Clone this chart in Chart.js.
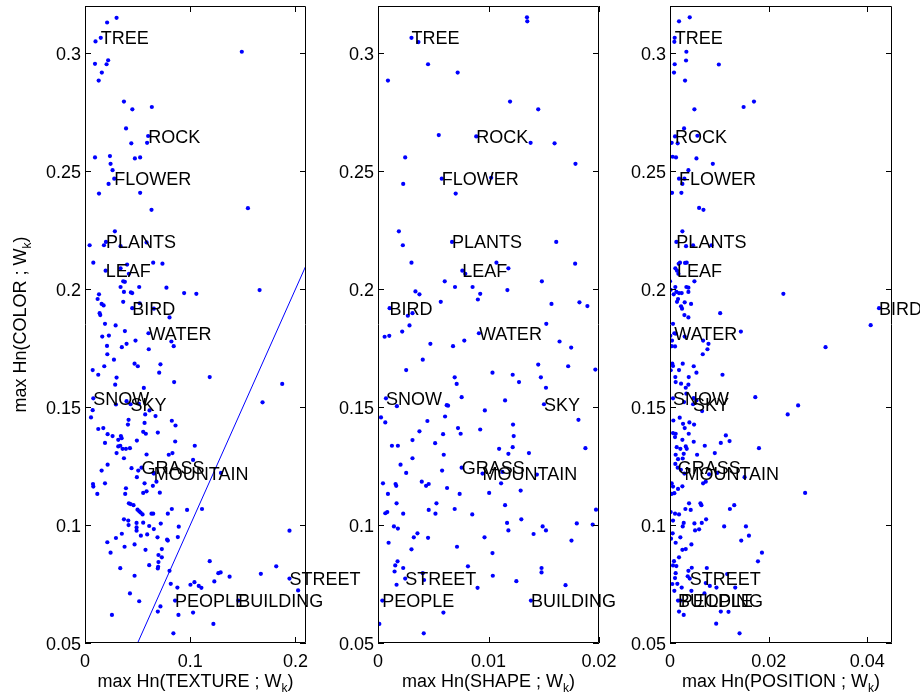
<!DOCTYPE html>
<html>
<head>
<meta charset="utf-8">
<script src="https://cdn.jsdelivr.net/npm/chart.js@4.4.1/dist/chart.umd.min.js"></script>
<style>
  html, body { margin: 0; padding: 0; background: #fff; }
  #wrap { position: relative; width: 920px; height: 693px; overflow: hidden; }
  #wrap canvas { position: absolute; left: 0; top: 0; }
</style>
</head>
<body>
<div id="wrap">
  <canvas id="cTexture" width="920" height="693"></canvas>
  <canvas id="cShape" width="920" height="693"></canvas>
  <canvas id="cPosition" width="920" height="693"></canvas>
</div>
<script>
// shared y axis (max Hn(COLOR ; Wk))
const yTicks = [0.05, 0.1, 0.15, 0.2, 0.25, 0.3];
const yMin = 0.05, yMax = 0.32;

// labelled words, y is the same in every panel
const words = ['TREE', 'ROCK', 'FLOWER', 'PLANTS', 'LEAF', 'BIRD', 'WATER', 'SNOW', 'SKY', 'GRASS', 'MOUNTAIN', 'STREET', 'PEOPLE', 'BUILDING'];
const wordY = [0.3065, 0.2647, 0.2468, 0.22, 0.2078, 0.1919, 0.1813, 0.1537, 0.1512, 0.1243, 0.1218, 0.0773, 0.068, 0.068];

// panel 1: texture
const textureTicks = [0, 0.1, 0.2];
const textureMax = 0.21;
const textureWordX = [0.015, 0.060, 0.0278, 0.0199, 0.0196, 0.0449, 0.0603, 0.0079, 0.0433, 0.0537, 0.0654, 0.1943, 0.0856, 0.1457];
const textureLine = [[0.05, 0.05], [0.21, 0.21]];
const texturePoints = [
  [0.030,0.315],[0.021,0.313],[0.015,0.3065],[0.010,0.305],[0.0095,0.2955],[0.022,0.297],[0.0205,0.2953],[0.016,0.2918],[0.013,0.2884],[0.149,0.3006],
  [0.037,0.2795],[0.045,0.2762],[0.0635,0.2772],[0.039,0.2681],[0.060,0.2649],[0.059,0.262],[0.044,0.2618],[0.0095,0.2558],[0.0237,0.2564],[0.0243,0.2531],
  [0.0262,0.2504],[0.0474,0.2554],[0.0524,0.2558],[0.0278,0.2468],[0.0224,0.2446],[0.0133,0.2405],[0.0524,0.2408],[0.0632,0.2336],[0.1548,0.2343],[0.0284,0.2245],
  [0.0199,0.22],[0.018,0.2186],[0.0044,0.2186],[0.0338,0.2182],[0.0585,0.2198],[0.0079,0.2112],[0.0196,0.2078],[0.0338,0.2088],[0.040,0.2104],[0.0648,0.2112],
  [0.0736,0.2108],[0.0417,0.2065],[0.0338,0.2009],[0.0363,0.2033],[0.0379,0.2031],[0.0515,0.2009],[0.0774,0.2006],[0.1659,0.1996],[0.037,0.1988],[0.0436,0.1986],
  [0.0449,0.1983],[0.0942,0.1983],[0.1058,0.198],[0.0133,0.1978],[0.012,0.1958],[0.0158,0.1937],[0.0177,0.1931],[0.0363,0.1946],[0.0449,0.1919],[0.052,0.194],
  [0.0654,0.1917],[0.0139,0.1898],[0.0145,0.189],[0.0803,0.188],[0.019,0.1853],[0.0291,0.1846],[0.0379,0.1822],[0.0603,0.1813],[0.0164,0.1799],[0.0227,0.1803],
  [0.0209,0.1759],[0.035,0.1754],[0.0395,0.1768],[0.048,0.1782],[0.0821,0.1778],[0.0843,0.1758],[0.0606,0.1745],
  [0.0212,0.1724],[0.0275,0.1701],[0.0183,0.1673],[0.0073,0.1657],[0.0471,0.1684],[0.0502,0.1673],[0.0717,0.1681],[0.0705,0.1646],[0.0126,0.1637],[0.030,0.1625],
  [0.1185,0.1627],[0.0847,0.1606],[0.0287,0.1595],[0.0559,0.1581],[0.1874,0.1598],[0.0079,0.1537],[0.0294,0.1511],[0.0395,0.1525],[0.0433,0.1512],[0.0512,0.1514],
  [0.1687,0.152],[0.0073,0.1487],[0.0613,0.1486],[0.0057,0.1456],[0.0572,0.1469],[0.067,0.1462],[0.0414,0.1446],[0.0825,0.1442],[0.0566,0.1433],[0.0408,0.1426],
  [0.086,0.1422],[0.0126,0.1407],[0.0174,0.1411],[0.0553,0.1395],[0.0578,0.1387],[0.0692,0.1392],[0.0493,0.1358],[0.0316,0.1361],[0.0215,0.1385],[0.0262,0.1377],
  [0.019,0.1348],[0.0341,0.1377],[0.0348,0.1368],[0.0857,0.1354],[0.1043,0.1336],[0.0316,0.1333],[0.0335,0.1336],[0.0357,0.1323],[0.0389,0.1323],[0.0427,0.1326],
  [0.030,0.1305],[0.0585,0.1299],[0.0831,0.1305],[0.0796,0.1298],[0.037,0.1283],[0.1027,0.1276],[0.0215,0.1256],[0.0158,0.1231],[0.0442,0.1241],[0.0506,0.1231],
  [0.0537,0.1243],[0.0651,0.1221],[0.0654,0.1218],[0.1292,0.1221],[0.0493,0.1203],[0.0566,0.1177],[0.0679,0.1184],[0.0076,0.1174],[0.0079,0.1163],[0.019,0.1177],
  [0.0389,0.1156],[0.0645,0.1166],[0.0585,0.1143],[0.0711,0.1137],[0.0117,0.1132],[0.0382,0.1132],[0.0553,0.1136],[0.0417,0.1092],[0.0433,0.1089],[0.0461,0.1084],
  [0.0499,0.1065],[0.0515,0.1058],[0.0528,0.1053],[0.0547,0.1045],[0.0632,0.1048],[0.0648,0.1048],[0.0787,0.1048],[0.0825,0.1068],[0.097,0.1064],[0.1112,0.1068],
  [0.037,0.1024],[0.0411,0.1019],[0.049,0.1009],[0.0414,0.100],[0.0553,0.101],[0.072,0.1006],[0.049,0.099],[0.061,0.0996],[0.0654,0.0983],[0.049,0.0976],
  [0.035,0.0963],[0.0531,0.0955],[0.0591,0.096],[0.0689,0.0948],[0.078,0.0938],[0.0891,0.0993],[0.0882,0.0949],[0.1943,0.0976],[0.0294,0.0945],[0.0212,0.0927],
  [0.0787,0.0934],[0.0471,0.0918],[0.0376,0.0908],[0.0575,0.0895],[0.073,0.0898],[0.0243,0.0883],[0.0698,0.0873],[0.073,0.0863],[0.1185,0.0847],[0.061,0.083],
  [0.0698,0.0843],[0.0695,0.0823],[0.0692,0.0816],[0.0335,0.0817],[0.0803,0.0806],[0.1267,0.0796],[0.1289,0.0799],[0.1374,0.0781],[0.1671,0.0793],[0.1817,0.0825],
  [0.1229,0.0761],[0.1943,0.0773],[0.0471,0.0785],[0.104,0.0758],[0.1002,0.0747],[0.1081,0.0742],[0.1106,0.0734],[0.0815,0.0751],[0.0878,0.0735],[0.2025,0.0723],
  [0.0427,0.071],[0.0515,0.0677],[0.0856,0.068],[0.1457,0.068],[0.0717,0.0655],[0.0692,0.0633],[0.0888,0.0619],[0.1027,0.0629],[0.0256,0.0619],[0.122,0.0581],
  [0.084,0.0541]
];

// panel 2: shape
const shapeTicks = [0, 0.01, 0.02];
const shapeMax = 0.02;
const shapeWordX = [0.00303, 0.00889, 0.00577, 0.0067, 0.00763, 0.00105, 0.00913, 0.00072, 0.01502, 0.00757, 0.00946, 0.00246, 0.00039, 0.01384];
const shapePoints = [
  [0.01348,0.3152],[0.01351,0.3135],[0.00303,0.3065],[0.00366,0.3047],[0.00453,0.2953],[0.00721,0.2918],[0.0009,0.2884],[0.01195,0.2795],[0.0145,0.2762],[0.0055,0.2653],
  [0.00889,0.2647],[0.01381,0.262],[0.01598,0.2618],[0.00246,0.2558],[0.01787,0.2531],[0.00577,0.2468],[0.01024,0.2472],[0.00228,0.2446],[0.00703,0.2405],[0.00189,0.2245],
  [0.0067,0.22],[0.01613,0.22],[0.00225,0.2186],[0.00303,0.2112],[0.01784,0.2108],[0.01072,0.2112],[0.0118,0.2088],[0.00763,0.2078],[0.0079,0.2065],[0.00604,0.2033],
  [0.01483,0.2033],[0.00697,0.2009],[0.00856,0.2009],[0.01171,0.1996],[0.00339,0.199],[0.00375,0.1978],[0.00925,0.198],[0.00904,0.1956],[0.00568,0.1946],[0.0157,0.1937],
  [0.01823,0.1944],[0.01895,0.1928],[0.00105,0.1919],[0.00312,0.1898],[0.0027,0.1887],[0.00285,0.1846],[0.00219,0.182],[0.01523,0.1853],[0.00913,0.1813],[0.0006,0.1798],
  [0.00102,0.1802],[0.00474,0.1768],[0.00679,0.1758],[0.00781,0.1782],[0.01643,0.1778],[0.01748,0.1752],
  [0.00405,0.1701],[0.00255,0.1657],[0.0145,0.168],[0.01721,0.1673],[0.01967,0.1659],[0.01036,0.1646],[0.00694,0.1626],[0.01219,0.1637],[0.01474,0.1626],[0.00712,0.1598],
  [0.01276,0.1606],[0.0152,0.1582],[0.00757,0.1542],[0.0115,0.1528],[0.00072,0.1537],[0.00171,0.1504],[0.00622,0.1508],[0.00634,0.1506],[0.01502,0.1512],[0.00967,0.1486],
  [0.00027,0.1456],[0.00066,0.1435],[0.00447,0.1441],[0.00607,0.146],[0.01814,0.1446],[0.01222,0.1426],[0.00375,0.1397],[0.00724,0.1411],[0.00748,0.1387],[0.00925,0.1405],
  [0.00589,0.1385],[0.01228,0.1377],[0.00312,0.136],[0.00517,0.1347],[0.00126,0.1336],[0.0018,0.1336],[0.01219,0.133],[0.01096,0.1323],[0.0118,0.1302],[0.01366,0.1305],
  [0.01877,0.1326],[0.00595,0.1298],[0.00312,0.1283],[0.00204,0.1256],[0.00757,0.1243],[0.0058,0.1231],[0.00255,0.1221],[0.00946,0.1218],[0.01438,0.1214],[0.01126,0.1225],
  [0.00045,0.1177],[0.00159,0.1174],[0.00165,0.1166],[0.00396,0.1184],[0.00459,0.1174],[0.00435,0.1166],[0.01114,0.1177],[0.00625,0.1157],[0.01291,0.1146],[0.0009,0.1132],
  [0.00739,0.1132],[0.01006,0.1136],[0.00168,0.1092],[0.00529,0.1092],[0.0115,0.1084],[0.00694,0.1068],[0.00459,0.1064],[0.00084,0.1055],[0.00066,0.105],[0.00228,0.1048],
  [0.0052,0.1048],[0.00853,0.1045],[0.01973,0.1065],[0.01297,0.1024],[0.01168,0.1009],[0.01799,0.1007],[0.01943,0.1002],[0.0149,0.0994],[0.00144,0.0994],[0.0018,0.0985],
  [0.0118,0.0977],[0.0152,0.0977],[0.00357,0.0965],[0.01408,0.0962],[0.00324,0.0948],[0.00453,0.0946],[0.00964,0.0948],[0.01751,0.0934],[0.00096,0.0925],[0.00715,0.0908],
  [0.00303,0.0897],[0.01036,0.0881],[0.00177,0.0846],[0.00156,0.0829],[0.0015,0.0803],[0.00228,0.0818],[0.00814,0.0825],[0.0148,0.0818],[0.0148,0.0799],[0.00405,0.0796],
  [0.01039,0.0785],[0.00246,0.0773],[0.00417,0.0767],[0.01252,0.0762],[0.00168,0.0747],[0.01697,0.0745],[0.00901,0.0734],[0.00039,0.068],[0.01384,0.068],[0.00592,0.0629],
  [0.00012,0.0581],[0.00414,0.0541]
];

// panel 3: position
const positionTicks = [0, 0.02, 0.04];
const positionMax = 0.045;
const positionWordX = [0.00095, 0.00102, 0.00183, 0.00129, 0.00142, 0.04237, 0.00088, 0.00061, 0.00468, 0.00156, 0.00292, 0.0040, 0.00217, 0.00163];
const positionPoints = [
  [0.004,0.3152],[0.00183,0.3135],[0.00095,0.3065],[0.00088,0.3048],[0.00332,0.3006],[0.00325,0.2969],[0.00095,0.2953],[0.0099,0.2952],[0.00081,0.2918],[0.00305,0.2884],
  [0.01702,0.2795],[0.01492,0.2772],[0.00495,0.2762],[0.00285,0.2681],[0.00102,0.2647],[0.00556,0.265],[0.00034,0.262],[0.00156,0.2618],[0.00054,0.2561],[0.00122,0.2558],
  [0.00536,0.2554],[0.00868,0.2531],[0.00373,0.2504],[0.00183,0.2468],[0.00292,0.2468],[0.00251,0.2446],[0.00041,0.2408],[0.00231,0.2408],[0.0059,0.2344],[0.00678,0.2336],
  [0.00251,0.2245],[0.00129,0.22],[0.00325,0.2182],[0.00468,0.2186],[0.00841,0.2186],[0.00176,0.2107],[0.00203,0.2112],[0.00305,0.2111],[0.00339,0.2112],[0.00108,0.2088],
  [0.00142,0.2078],[0.0017,0.2065],[0.0000,0.2033],[0.00495,0.2033],[0.00014,0.1997],[0.00108,0.2009],[0.00332,0.2009],[0.00373,0.2006],[0.02298,0.198],[0.00129,0.1988],
  [0.00183,0.1983],[0.00237,0.1983],[0.00075,0.1978],[0.00373,0.1988],[0.00163,0.1958],[0.00142,0.1946],[0.00298,0.1944],[0.00427,0.1937],[0.00224,0.1927],[0.00244,0.1917],
  [0.01017,0.1898],[0.00292,0.189],[0.00373,0.188],[0.04237,0.1919],[0.04068,0.1847],[0.00061,0.1853],[0.00088,0.1813],[0.00007,0.1802],[0.00115,0.1811],[0.00298,0.1799],
  [0.01437,0.182],[0.00671,0.1782],[0.0078,0.1768],[0.00041,0.1782],[0.00034,0.1758],[0.00102,0.1757],[0.03153,0.1754],[0.00759,0.1745],
  [0.00664,0.1724],[0.00047,0.1684],[0.00061,0.1674],[0.00258,0.1684],[0.00481,0.1673],[0.00183,0.1657],[0.00014,0.1656],[0.00536,0.1646],[0.01064,0.1637],[0.0038,0.1627],
  [0.00108,0.1627],[0.00115,0.1606],[0.00224,0.1599],[0.00373,0.1595],[0.00319,0.1582],[0.00332,0.1557],[0.00061,0.1537],[0.01729,0.1542],[0.00481,0.1538],[0.00536,0.1528],
  [0.02597,0.1507],[0.02386,0.1469],[0.00285,0.1521],[0.00468,0.1512],[0.00651,0.1483],[0.00068,0.1443],[0.00197,0.1455],[0.00264,0.1429],[0.00393,0.1435],[0.00488,0.1426],
  [0.00298,0.1411],[0.00061,0.139],[0.00115,0.1387],[0.0038,0.1387],[0.00102,0.1373],[0.00251,0.1361],[0.00481,0.1353],[0.0103,0.1348],[0.01207,0.1356],[0.01132,0.138],
  [0.00136,0.133],[0.0021,0.1323],[0.00319,0.1333],[0.00339,0.1323],[0.00705,0.1336],[0.01803,0.1326],[0.00115,0.1298],[0.00278,0.1302],[0.00549,0.1298],[0.00908,0.1305],
  [0.00163,0.1279],[0.00258,0.1282],[0.00108,0.1259],[0.00156,0.1243],[0.00292,0.1218],[0.0022,0.1234],[0.00793,0.1215],[0.00956,0.1221],[0.01512,0.1203],[0.00725,0.1184],
  [0.00671,0.1177],[0.00034,0.1177],[0.00061,0.1163],[0.00034,0.1132],[0.00088,0.1135],[0.00163,0.1153],[0.00251,0.1164],[0.02739,0.1136],[0.00386,0.1092],[0.00617,0.1092],
  [0.01302,0.1084],[0.00312,0.1068],[0.0042,0.1064],[0.00637,0.1084],[0.01214,0.1068],[0.00014,0.1055],[0.00102,0.1048],[0.00183,0.1045],[0.00061,0.1019],[0.00278,0.1009],
  [0.00495,0.1007],[0.00644,0.1009],[0.00732,0.1024],[0.01098,0.0994],[0.01539,0.0994],[0.016,0.0955],[0.01444,0.0934],[0.00258,0.0994],[0.00508,0.0977],[0.0059,0.0982],
  [0.00054,0.0965],[0.0002,0.0942],[0.0021,0.0948],[0.00115,0.0925],[0.00434,0.0918],[0.00251,0.0895],[0.00319,0.0898],[0.00183,0.0863],[0.01864,0.0883],[0.01783,0.0846],
  [0.00061,0.0829],[0.00129,0.0826],[0.00081,0.0847],[0.00441,0.0819],[0.00373,0.0806],[0.00746,0.0818],[0.00115,0.0796],[0.00359,0.0783],[0.0040,0.0773],[0.01159,0.0792],
  [0.00102,0.0775],[0.00047,0.075],[0.00237,0.0735],[0.00149,0.0751],[0.00725,0.0754],[0.00807,0.0742],[0.00942,0.0735],[0.01322,0.0735],[0.00088,0.0721],[0.00434,0.0721],
  [0.00698,0.071],[0.00163,0.068],[0.00217,0.068],[0.00183,0.0633],[0.00278,0.0619],[0.0103,0.0633],[0.01186,0.0632],[0.00936,0.0582],[0.0141,0.0541]
];

// page layout (pixels)
const FONT = "'Liberation Sans', Arial, Helvetica, sans-serif";
const W = 920, H = 693;
const PLOT_TOP = 6, PLOT_BOTTOM = 643;
const Y_AXIS_W = 60, X_AXIS_H = 40;
const TICK_LEN = 6;
const BLUE = '#0000ff';

const panels = [
  { id: 'cTexture', left: 85, right: 306, points: texturePoints, wordX: textureWordX, ticks: textureTicks, max: textureMax,
    line: textureLine, xTitle: ['max Hn(TEXTURE ; W', 'k', ')'], yTitle: ['max Hn(COLOR ; W', 'k', ')'] },
  { id: 'cShape', left: 378, right: 599, points: shapePoints, wordX: shapeWordX, ticks: shapeTicks, max: shapeMax,
    xTitle: ['max Hn(SHAPE ; W', 'k', ')'] },
  { id: 'cPosition', left: 670, right: 892, points: positionPoints, wordX: positionWordX, ticks: positionTicks, max: positionMax,
    xTitle: ['max Hn(POSITION ; W', 'k', ')'] }
];

// text with a subscript part, centred on (cx, baseline)
function drawSubText(ctx, parts, cx, baseline) {
  const big = `18px ${FONT}`, small = `12px ${FONT}`;
  ctx.font = big; const w1 = ctx.measureText(parts[0]).width;
  ctx.font = small; const w2 = ctx.measureText(parts[1]).width;
  ctx.font = big; const w3 = ctx.measureText(parts[2]).width;
  let x = cx - (w1 + w2 + w3) / 2;
  ctx.textAlign = 'left';
  ctx.textBaseline = 'alphabetic';
  ctx.fillText(parts[0], x, baseline);
  ctx.font = small;
  ctx.fillText(parts[1], x + w1, baseline + 5);
  ctx.font = big;
  ctx.fillText(parts[2], x + w1 + w2, baseline);
}

const framePlugin = {
  id: 'frame',
  afterDatasetsDraw(chart, args, opts) {
    const { ctx, chartArea: a, scales: { x, y } } = chart;
    const p = opts.panel;
    ctx.save();
    ctx.strokeStyle = '#000';
    ctx.lineWidth = 1;
    ctx.beginPath();
    ctx.rect(a.left + 0.5, a.top + 0.5, a.right - a.left - 1, a.bottom - a.top - 1);
    // inward ticks on all four sides
    p.ticks.forEach(v => {
      const px = Math.round(x.getPixelForValue(v)) + 0.5;
      ctx.moveTo(px, a.bottom); ctx.lineTo(px, a.bottom - TICK_LEN);
      ctx.moveTo(px, a.top); ctx.lineTo(px, a.top + TICK_LEN);
    });
    yTicks.forEach(v => {
      const py = Math.round(y.getPixelForValue(v)) + 0.5;
      ctx.moveTo(a.left, py); ctx.lineTo(a.left + TICK_LEN, py);
      ctx.moveTo(a.right, py); ctx.lineTo(a.right - TICK_LEN, py);
    });
    ctx.stroke();

    // word labels, left edge at the word's point
    ctx.fillStyle = '#000';
    ctx.font = `18px ${FONT}`;
    ctx.textAlign = 'left';
    ctx.textBaseline = 'middle';
    words.forEach((w, i) => {
      ctx.fillText(w, x.getPixelForValue(p.wordX[i]), y.getPixelForValue(wordY[i]) + 1.5);
    });

    // axis titles
    drawSubText(ctx, p.xTitle, (a.left + a.right) / 2, 687);
    if (p.yTitle) {
      ctx.translate(25.5, (a.top + a.bottom) / 2);
      ctx.rotate(-Math.PI / 2);
      drawSubText(ctx, p.yTitle, 0, 0);
    }
    ctx.restore();
  }
};

panels.forEach(p => {
  const datasets = [{
    data: p.points.map(d => ({ x: d[0], y: d[1] })),
    showLine: false,
    pointRadius: 2.1,
    pointBorderWidth: 0,
    pointBackgroundColor: BLUE,
    pointBorderColor: BLUE
  }];
  if (p.line) {
    datasets.push({
      data: p.line.map(d => ({ x: d[0], y: d[1] })),
      showLine: true,
      borderColor: BLUE,
      borderWidth: 1,
      pointRadius: 0
    });
  }
  new Chart(document.getElementById(p.id), {
    type: 'scatter',
    data: { datasets },
    options: {
      responsive: false,
      animation: false,
      events: [],
      layout: {
        padding: { left: p.left - Y_AXIS_W, right: W - p.right, top: PLOT_TOP, bottom: H - PLOT_BOTTOM - X_AXIS_H }
      },
      plugins: {
        legend: { display: false },
        tooltip: { enabled: false },
        frame: { panel: p }
      },
      scales: {
        x: {
          type: 'linear',
          min: 0,
          max: p.max,
          afterBuildTicks: s => { s.ticks = p.ticks.map(v => ({ value: v })); },
          afterFit: s => { s.height = X_AXIS_H; s.paddingLeft = 0; s.paddingRight = 0; },
          grid: { display: false, drawTicks: false },
          border: { display: false },
          ticks: { color: '#000', font: { family: FONT, size: 18 }, padding: 8, maxRotation: 0, autoSkip: false, callback: v => String(v) }
        },
        y: {
          type: 'linear',
          min: yMin,
          max: yMax,
          afterBuildTicks: s => { s.ticks = yTicks.map(v => ({ value: v })); },
          afterFit: s => { s.width = Y_AXIS_W; s.paddingTop = 0; s.paddingBottom = 0; },
          grid: { display: false, drawTicks: false },
          border: { display: false },
          ticks: { color: '#000', font: { family: FONT, size: 18 }, padding: 4, labelOffset: 2, autoSkip: false, callback: v => String(v) }
        }
      }
    },
    plugins: [framePlugin]
  });
});
</script>
</body>
</html>
